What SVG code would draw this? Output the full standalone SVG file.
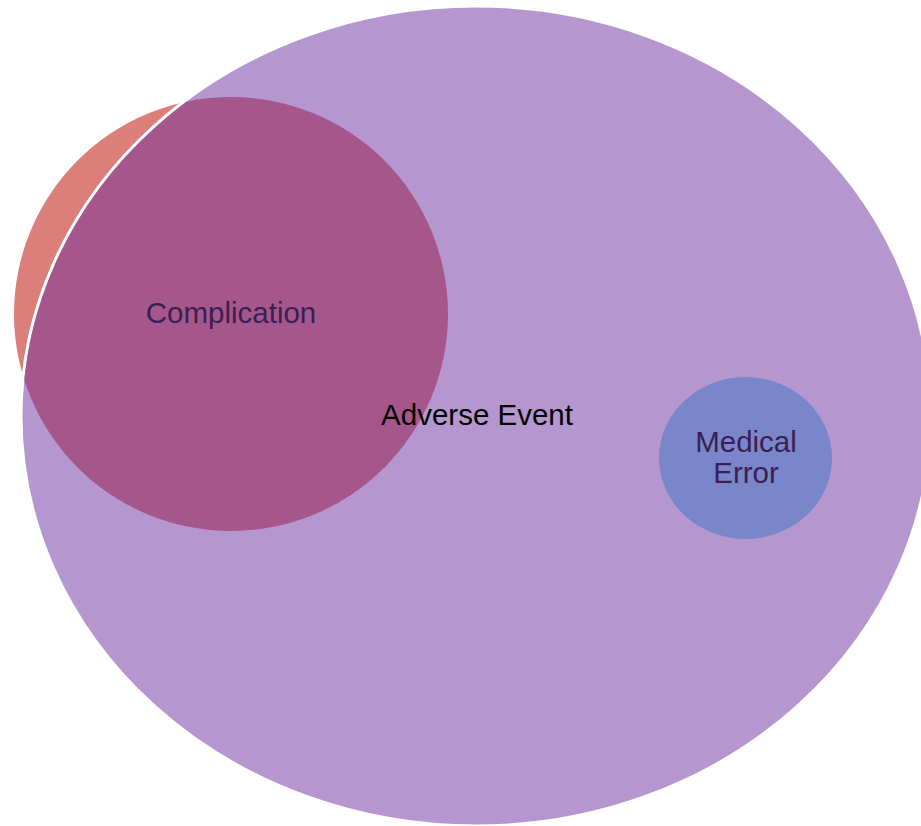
<svg xmlns="http://www.w3.org/2000/svg" width="921" height="826" viewBox="0 0 921 826">
<style>
.lbl{font-family:"Liberation Sans",Arial,sans-serif;font-size:29.5px;text-anchor:middle}
.dark{fill:#3B1E54}
</style>
<defs>
<clipPath id="inAE"><ellipse cx="476" cy="416" rx="453.5" ry="408.5"/></clipPath>
</defs>
<rect width="921" height="826" fill="#ffffff"/>
<g id="complication-outer"><circle cx="231" cy="314" r="217" fill="#DC7F7B"/></g>
<g id="adverse-event"><ellipse cx="476" cy="416" rx="455" ry="410" fill="#B596CE" stroke="#ffffff" stroke-width="3"/></g>
<g id="complication"><circle cx="231" cy="314" r="217" fill="#A5578B" clip-path="url(#inAE)"/>
<text class="lbl dark" x="231" y="323">Complication</text></g>
<g id="adverse-label"><text class="lbl" x="477" y="425" fill="#000000">Adverse Event</text></g>
<g id="medical-error"><ellipse cx="745.5" cy="458" rx="86.5" ry="81" fill="#7A86CA"/>
<text class="lbl dark" x="746" y="452">Medical</text>
<text class="lbl dark" x="746" y="483">Error</text></g>
<g id="connectors"/>
</svg>
